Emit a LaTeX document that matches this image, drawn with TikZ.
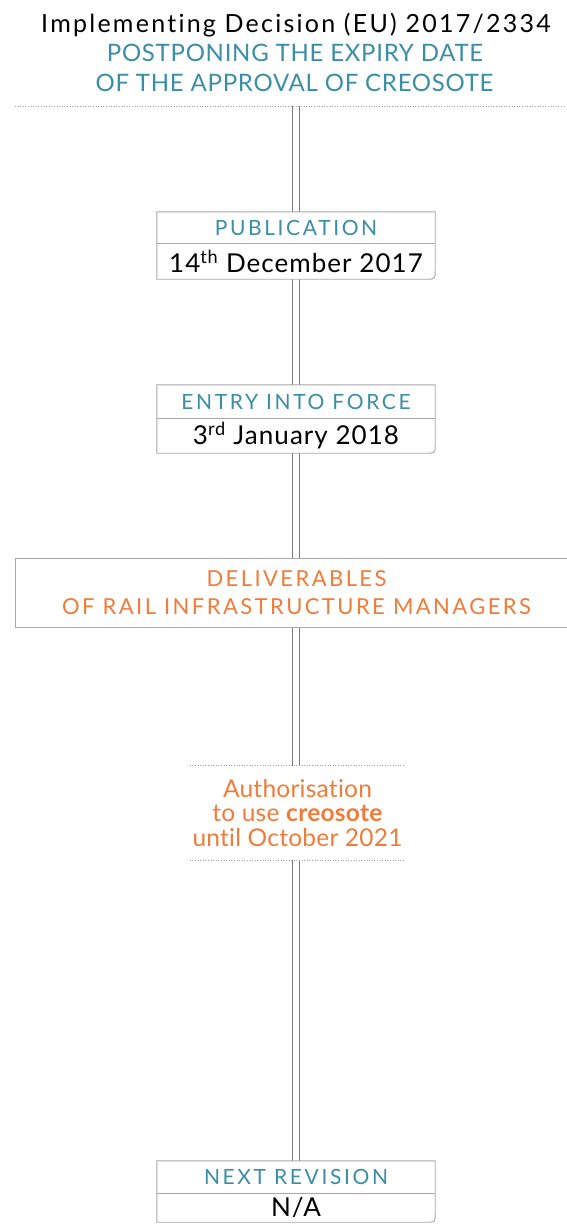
\documentclass[tikz,border=0pt]{standalone}
\usepackage{fontspec}
\setmainfont{Lato}[Ligatures=NoCommon]
\usetikzlibrary{calc}
\definecolor{tealc}{HTML}{3A8EA5}
\definecolor{orngc}{HTML}{F07C3A}
\definecolor{railc}{HTML}{7A7A7A}
\definecolor{boxc}{HTML}{A8A8A8}
\definecolor{dotc}{HTML}{A0A0A0}
\newcommand{\fs}[1]{\fontsize{#1}{#1}\selectfont}
\tikzset{
  railline/.style={draw=railc, line width=0.9pt},
  headbox/.style={rectangle, fill=white, minimum width=278pt, inner sep=0pt, text=tealc, font=\fs{21}\addfontfeatures{LetterSpace=12.5}},
  datebox/.style={rectangle, fill=white, minimum width=278pt, inner sep=0pt, text=black, font=\fs{26}\addfontfeatures{LetterSpace=4}},
  outline/.style={draw=boxc, line width=0.9pt},
  dotline/.style={draw=dotc, line width=0.8pt, dash pattern=on 1pt off 1.6pt},
}
\begin{document}
\begin{tikzpicture}[x=1pt,y=-1pt]
\useasboundingbox (0,0) rectangle (566,1224);
\fill[white] (0,0) rectangle (566,1224);

% header
\node[anchor=base] (t1) at (296,32) {\fs{25}\addfontfeatures{LetterSpace=9}Implementing Decision (EU) 2017/2334};
\node[anchor=base, text=tealc, font=\fs{24}\addfontfeatures{LetterSpace=3}] (t2) at (295,61) {POSTPONING THE EXPIRY DATE};
\node[anchor=base, text=tealc, font=\fs{24}\addfontfeatures{LetterSpace=3}] (t3) at (294.5,91) {OF THE APPROVAL OF CREOSOTE};
\coordinate (top) at (295.5,106);
\coordinate (topL) at (15,106);
\coordinate (topR) at (566,106);

% boxes
\node[headbox, minimum height=31pt] (pubT) at (296,227.5) {PUBLICATION};
\node[datebox, minimum height=36pt] (pubD) at (296,261) {14\textsuperscript{th} December 2017};
\node[headbox, minimum height=33pt] (entT) at (296,401.5) {ENTRY INTO FORCE};
\node[datebox, minimum height=35pt] (entD) at (296,435.5) {3\textsuperscript{rd} January 2018};
\node[rectangle, fill=white, minimum width=556pt, minimum height=68pt, inner sep=0pt] (deliv) at (294,593) {};
\node[text=orngc, align=center, font=\fs{22}\addfontfeatures{LetterSpace=11}] (delivtxt) at (296.5,593) {DELIVERABLES\\[6pt]OF RAIL INFRASTRUCTURE MANAGERS};
\node[rectangle, fill=white, minimum width=215pt, minimum height=94pt, inner sep=0pt, text=orngc, align=center, font=\fs{24.5}\addfontfeatures{LetterSpace=1}] (auth) at (297.5,813) {Authorisation\\[0pt]to use \textbf{creosote}\\[0pt]until October 2021};
\node[headbox, minimum height=32pt] (nextT) at (296,1177) {NEXT REVISION};
\node[datebox, minimum height=29pt] (nextD) at (296,1207.5) {N/A};

% rail (two parallel lines between successive nodes)
\foreach \dx in {-3.5,3.5}{
  \draw[railline] ([xshift=\dx pt]top) -- ([xshift=\dx pt]pubT.north -| top);
  \draw[railline] ([xshift=\dx pt]pubD.south -| top) -- ([xshift=\dx pt]entT.north -| top);
  \draw[railline] ([xshift=\dx pt]entD.south -| top) -- ([xshift=\dx pt]deliv.north -| top);
  \draw[railline] ([xshift=\dx pt]deliv.south -| top) -- ([xshift=\dx pt]auth.north -| top);
  \draw[railline] ([xshift=\dx pt]auth.south -| top) -- ([xshift=\dx pt]nextT.north -| top);
}

% outlines
\draw[dotline] (topL) -- (topR);
\foreach \a/\b in {pubT/pubD, entT/entD, nextT/nextD}{
  \draw[outline] (\a.north west) -- (\a.north east) -- ($(\b.south east)+(0,-9)$) .. controls (\b.south east) .. ($(\b.south east)+(-9,0)$) -- (\b.south west) -- cycle;
  \draw[outline] (\a.south west) -- (\a.south east);
}
\draw[outline] (deliv.north west) -- (deliv.north east) -- (deliv.south east) -- (deliv.south west) -- cycle;
\draw[dotline] (auth.north west) -- (auth.north east);
\draw[dotline] (auth.south west) -- (auth.south east);
\end{tikzpicture}
\end{document}
